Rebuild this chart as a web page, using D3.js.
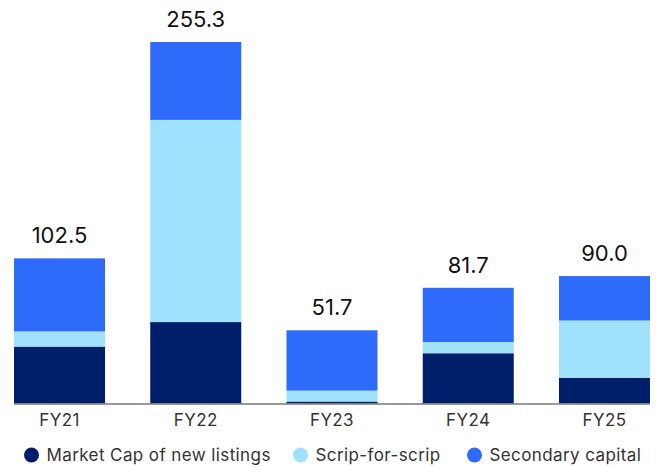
<!DOCTYPE html>
<html>
<head>
<meta charset="utf-8">
<script src="https://cdn.jsdelivr.net/npm/d3@7"></script>
<style>
  html, body { margin: 0; padding: 0; background: #fff; }
  svg { display: block; font-family: Inter, "Noto Sans", sans-serif; }
</style>
</head>
<body>
<svg id="chart" width="656" height="467"></svg>
<script>
// chart data
var years = ["FY21", "FY22", "FY23", "FY24", "FY25"];
var marketCap = [40.2, 57.5, 1.4, 35.5, 18.2];
var scripForScrip = [10.7, 142.8, 7.7, 7.9, 40.4];
var secondary = [51.6, 55.0, 42.6, 38.3, 31.4];
var totals = [102.5, 255.3, 51.7, 81.7, 90.0];
var seriesNames = ["Market Cap of new listings", "Scrip-for-scrip", "Secondary capital"];
var seriesColors = ["#001F6B", "#A0E2FE", "#2F6BFA"];

var svg = d3.select("#chart");
var baseY = 403.5;

var x = d3.scaleBand().domain(years).range([14, 650]).paddingInner(0.332).paddingOuter(0);
var y = d3.scaleLinear().domain([0, 255.3]).range([baseY, 42]);

// stack the three series
var rows = years.map(function (yr, i) {
    return { year: yr, s0: marketCap[i], s1: scripForScrip[i], s2: secondary[i] };
});
var stacked = d3.stack().keys(["s0", "s1", "s2"])(rows);

svg.append("g").selectAll("g")
    .data(stacked)
    .join("g")
    .attr("fill", function (d, i) { return seriesColors[i]; })
    .selectAll("rect")
    .data(function (d) { return d; })
    .join("rect")
    .attr("x", function (d) { return x(d.data.year); })
    .attr("y", function (d) { return y(d[1]); })
    .attr("width", x.bandwidth())
    .attr("height", function (d) { return y(d[0]) - y(d[1]); });

// baseline
svg.append("line")
    .attr("x1", 14).attr("x2", 650)
    .attr("y1", baseY + 0.5).attr("y2", baseY + 0.5)
    .attr("stroke", "#777").attr("stroke-width", 1.5);

// total labels
svg.append("g").selectAll("text")
    .data(years)
    .join("text")
    .attr("x", function (d) { return x(d) + x.bandwidth() / 2; })
    .attr("y", function (d, i) { return y(totals[i]) - 15; })
    .attr("text-anchor", "middle")
    .attr("font-size", 22)
    .attr("fill", "#111")
    .text(function (d, i) { return totals[i].toFixed(1); });

// x labels
svg.append("g").selectAll("text")
    .data(years)
    .join("text")
    .attr("x", function (d) { return x(d) + x.bandwidth() / 2; })
    .attr("y", 426)
    .attr("text-anchor", "middle")
    .attr("font-size", 17)
    .attr("letter-spacing", 0.4)
    .attr("fill", "#333")
    .text(function (d) { return d; });

// legend
var legendX = [31.5, 300.5, 474.5];
var lg = svg.append("g").selectAll("g")
    .data(seriesNames)
    .join("g")
    .attr("transform", function (d, i) { return "translate(" + legendX[i] + ",455)"; });
lg.append("circle")
    .attr("r", 7.5)
    .attr("fill", function (d, i) { return seriesColors[i]; });
lg.append("text")
    .attr("x", 15)
    .attr("y", 6)
    .attr("font-size", 17)
    .attr("letter-spacing", 0.4)
    .attr("fill", "#333")
    .text(function (d) { return d; });
</script>
</body>
</html>
